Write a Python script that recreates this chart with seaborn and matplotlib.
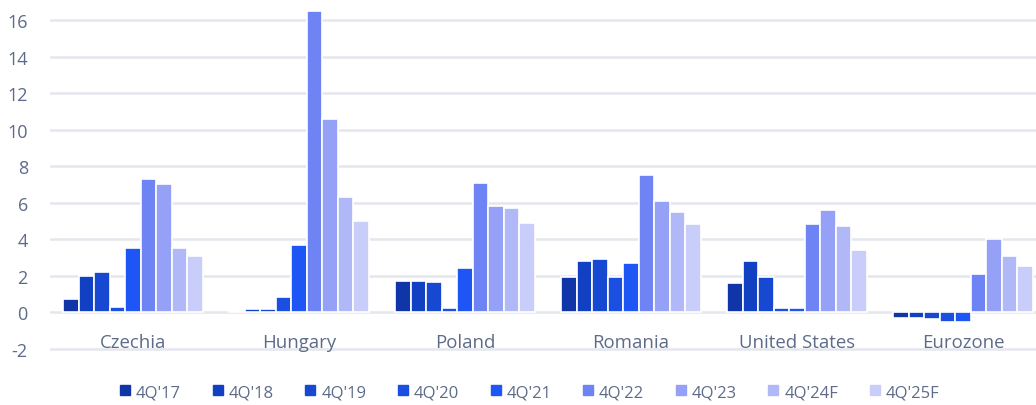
import matplotlib
matplotlib.use("Agg")
import matplotlib.pyplot as plt
from matplotlib.lines import Line2D
import seaborn as sns
import pandas as pd

countries = ["Czechia", "Hungary", "Poland", "Romania", "United States", "Eurozone"]
periods = ["4Q'17", "4Q'18", "4Q'19", "4Q'20", "4Q'21", "4Q'22", "4Q'23", "4Q'24F", "4Q'25F"]

czechia = [0.7, 2.0, 2.2, 0.3, 3.5, 7.3, 7.0, 3.5, 3.1]
hungary = [0.05, 0.15, 0.15, 0.8, 3.7, 16.5, 10.6, 6.3, 5.0]
poland = [1.7, 1.7, 1.65, 0.2, 2.4, 7.1, 5.8, 5.7, 4.9]
romania = [1.9, 2.8, 2.9, 1.9, 2.7, 7.5, 6.1, 5.5, 4.8]
united_states = [1.6, 2.8, 1.9, 0.25, 0.25, 4.8, 5.6, 4.7, 3.4]
eurozone = [-0.3, -0.3, -0.4, -0.55, -0.55, 2.1, 4.0, 3.1, 2.5]

yticks = [-2, 0, 2, 4, 6, 8, 10, 12, 14, 16]

palette = ["#0f35a8", "#1240c2", "#1648d2", "#1a4fe2", "#1e56f5",
           "#6e84f5", "#95a0f7", "#b0b8f8", "#c8cdfa"]

series = [czechia, hungary, poland, romania, united_states, eurozone]
rows = []
for country, vals in zip(countries, series):
    for period, v in zip(periods, vals):
        rows.append({"country": country, "period": period, "value": v})
df = pd.DataFrame(rows)

sns.set_theme(style="white")
plt.rcParams["font.family"] = ["Open Sans", "DejaVu Sans"]

text_color = "#5d6b89"

fig = plt.figure(figsize=(10.36, 4.06), dpi=100)
ax = fig.add_axes([50 / 1036, 0.130, 996 / 1036, 0.854])

sns.barplot(data=df, x="country", y="value", hue="period",
            order=countries, hue_order=periods, palette=palette,
            saturation=1, width=0.84, edgecolor="white", linewidth=1.2,
            errorbar=None, legend=False, ax=ax)

ax.set_ylim(-2.2, 16.8)
ax.set_xlim(-0.5, 5.5)
ax.set_yticks(yticks)
ax.set_yticklabels([str(t) for t in yticks])
ax.tick_params(axis="y", length=0, pad=16, labelsize=13, labelcolor=text_color)
ax.set_xticks([])
ax.set_xlabel("")
ax.set_ylabel("")
ax.grid(axis="y", color="#e4e7ee", linewidth=1.8)
ax.set_axisbelow(True)
for s in ax.spines.values():
    s.set_visible(False)

for i, name in enumerate(countries):
    ax.text(i, -1.65, name, ha="center", va="center",
            fontsize=13.4, color=text_color)

handles = [Line2D([0], [0], marker="s", linestyle="none", markersize=6.8,
                  markerfacecolor=c, markeredgecolor=c) for c in palette]
fig.legend(handles, periods, loc="center", bbox_to_anchor=(0.511, 0.032),
           ncol=9, frameon=False, fontsize=12, labelcolor=text_color,
           handlelength=0.7, handletextpad=0.3, columnspacing=1.85)

fig.savefig("out.png", dpi=100)
